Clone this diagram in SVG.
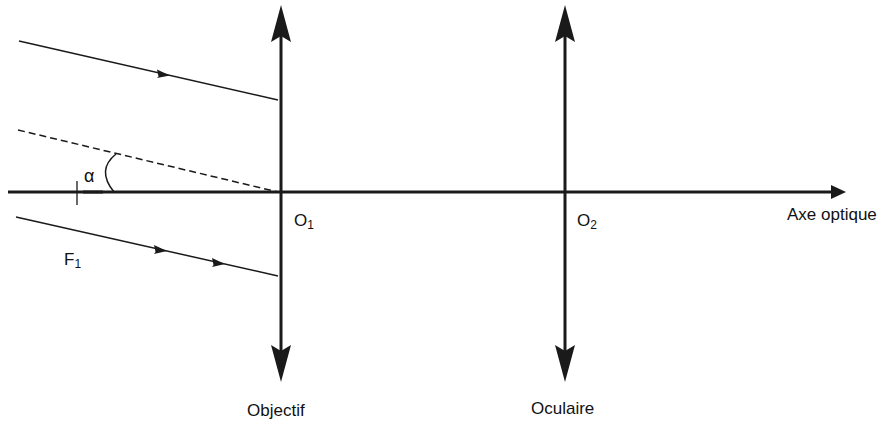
<svg xmlns="http://www.w3.org/2000/svg" width="890" height="440" viewBox="0 0 890 440">
<style>
.t{font-family:"Liberation Sans",Arial,sans-serif;font-size:17px;fill:#111}
.s{font-family:"Liberation Sans",Arial,sans-serif;font-size:12px;fill:#111}
.ray{stroke:#1a1a1a;stroke-width:1.5;fill:none}
.thick{stroke:#1a1a1a;stroke-width:3;fill:none}
.head{fill:#1a1a1a}
</style>
<rect width="890" height="440" fill="#fff"/>
<g id="axis">
<line class="thick" x1="8" y1="192" x2="834" y2="192"/>
<polygon class="head" points="846,192 831,185 831,199"/>
<line x1="77" y1="181" x2="77" y2="205" stroke="#1a1a1a" stroke-width="1.3"/>
<line x1="83" y1="192" x2="103" y2="192" stroke="#1a1a1a" stroke-width="3"/>
<text class="t" x="787" y="220">Axe optique</text>
</g>
<g id="objectif">
<line class="thick" x1="281" y1="30" x2="281" y2="360"/>
<polygon class="head" points="281,5 271,42 281,36 291,42"/>
<polygon class="head" points="281,382 271,345 281,351 291,345"/>
<text class="t" x="294" y="226">O<tspan class="s" dy="3">1</tspan></text>
<text class="t" x="247" y="416">Objectif</text>
</g>
<g id="oculaire">
<line class="thick" x1="565" y1="30" x2="565" y2="360"/>
<polygon class="head" points="565,5 555,42 565,36 575,42"/>
<polygon class="head" points="565,382 555,345 565,351 575,345"/>
<text class="t" x="577" y="226">O<tspan class="s" dy="3">2</tspan></text>
<text class="t" x="531" y="414">Oculaire</text>
</g>
<g id="connectors">
<line class="ray" x1="19" y1="41" x2="278" y2="100"/>
<polygon class="head" points="170,75.4 157,69.5 158.5,76.5 157,78"/>
<line class="ray" x1="18" y1="130" x2="278" y2="192" stroke-dasharray="7,4"/>
<line class="ray" x1="16" y1="217" x2="278" y2="276"/>
<polygon class="head" points="167,251 154,245 155.5,252 154,254"/>
<polygon class="head" points="225,264 212,258 213.5,265 212,267"/>
<path class="ray" d="M116,154 Q96,170 114,192" stroke-width="1.2"/>
</g>
<text class="t" x="84" y="182" style="font-size:18px">α</text>
<text class="t" x="64" y="265">F<tspan class="s" dy="3">1</tspan></text>
</svg>
